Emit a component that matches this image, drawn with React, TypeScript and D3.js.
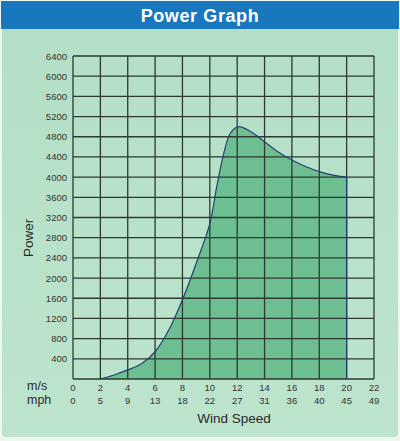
import { useEffect, useMemo } from "react";
import * as d3 from "d3";

const width = 400;
const height = 441;
const plot = { left: 73, right: 374, top: 56, bottom: 379 };

// wind speed in m/s and the power
const windSpeeds = [2, 3, 4, 5, 6, 7, 8, 9, 10, 10.5, 11, 11.5, 12.1, 13, 14, 15, 16, 17, 18, 19, 20];
const powerValues = [0, 80, 180, 300, 540, 970, 1570, 2290, 3080, 3800, 4450, 4870, 5000, 4900, 4700, 4500, 4340, 4210, 4110, 4040, 4000];

const msTicks = [0, 2, 4, 6, 8, 10, 12, 14, 16, 18, 20, 22];
const mphTicks = [0, 5, 9, 13, 18, 22, 27, 31, 36, 40, 45, 49];
const powerTicks = [0, 400, 800, 1200, 1600, 2000, 2400, 2800, 3200, 3600, 4000, 4400, 4800, 5200, 5600, 6000, 6400];

const font = "'Liberation Sans', Arial, sans-serif";

type Point = { ws: number; p: number };

export default function App() {
  useEffect(() => {
    document.body.style.margin = "0";
  }, []);

  const x = useMemo(
    () => d3.scaleLinear().domain([0, 22]).range([plot.left, plot.right]),
    [],
  );
  const y = useMemo(
    () => d3.scaleLinear().domain([0, 6400]).range([plot.bottom, plot.top]),
    [],
  );

  const points: Point[] = windSpeeds.map((ws, i) => ({ ws, p: powerValues[i] }));

  const curve = d3.curveCatmullRom.alpha(0.5);

  const area = d3
    .area<Point>()
    .x((d) => x(d.ws))
    .y0(y(0))
    .y1((d) => y(d.p))
    .curve(curve);

  const line = d3
    .line<Point>()
    .x((d) => x(d.ws))
    .y((d) => y(d.p))
    .curve(curve);

  const last = points[points.length - 1];

  return (
    <svg width={width} height={height} style={{ display: "block" }}>
      <defs>
        <linearGradient id="panel-bg" x1="0" y1="0" x2="0" y2="1">
          <stop offset="0" stopColor="#b3dfc6" />
          <stop offset="1" stopColor="#bde4cd" />
        </linearGradient>
      </defs>
      <rect x={0} y={0} width={width} height={height} fill="#eef6f1" />

      {/* panel */}
      <rect x={2} y={20} width={396} height={417} rx={4} fill="url(#panel-bg)" />

      {/* title bar */}
      <rect x={1} y={1} width={398} height={28} fill="#1877bd" />
      <text
        x={200}
        y={22}
        textAnchor="middle"
        fill="#ffffff"
        fontFamily={font}
        fontWeight={700}
        fontSize={18}
        letterSpacing={0.6}
      >
        Power Graph
      </text>

      {/* area under the curve */}
      <path d={area(points) ?? ""} fill="#6dbf91" />

      {/* grid */}
      <g stroke="#2c3a31" strokeWidth={1.3}>
        {msTicks.map((t) => (
          <line key={`v${t}`} x1={x(t)} x2={x(t)} y1={y(0)} y2={y(6400)} />
        ))}
        {powerTicks.map((t) => (
          <line key={`h${t}`} x1={x(0)} x2={x(22)} y1={y(t)} y2={y(t)} />
        ))}
      </g>

      {/* power curve */}
      <path d={line(points) ?? ""} fill="none" stroke="#24406e" strokeWidth={1.2} />
      <line
        x1={x(last.ws)}
        x2={x(last.ws)}
        y1={y(last.p)}
        y2={y(0)}
        stroke="#24406e"
        strokeWidth={1.2}
      />

      {/* y tick labels */}
      <g fontFamily={font} fontSize={9.5} fill="#333" textAnchor="end">
        {powerTicks
          .filter((t) => t > 0)
          .map((t) => (
            <text key={t} x={67} y={y(t) + 3.5}>
              {t}
            </text>
          ))}
      </g>

      {/* x tick labels */}
      <g fontFamily={font} fontSize={9.5} fill="#333" textAnchor="middle">
        {msTicks.map((t) => (
          <text key={`ms${t}`} x={x(t)} y={391}>
            {t}
          </text>
        ))}
        {mphTicks.map((t, i) => (
          <text key={`mph${t}`} x={x(msTicks[i])} y={404}>
            {t}
          </text>
        ))}
      </g>

      <g fontFamily={font} fontSize={12.5} fill="#2a2a2a">
        <text x={27} y={390}>m/s</text>
        <text x={27} y={403.5}>mph</text>
      </g>
      <g fontFamily={font} fontSize={13.5} fill="#2a2a2a">
        <text x={234} y={423} textAnchor="middle">
          Wind Speed
        </text>
        <text x={33} y={257} transform="rotate(-90 33 257)">
          Power
        </text>
      </g>
    </svg>
  );
}
